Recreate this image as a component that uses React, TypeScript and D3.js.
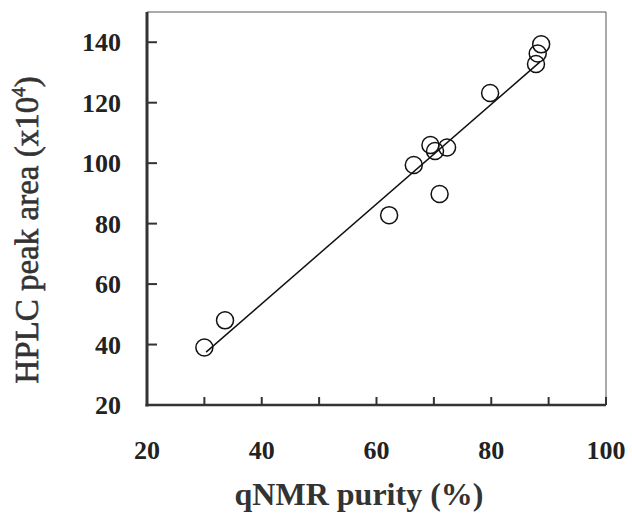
import React, { useRef, useEffect } from 'react';
import * as d3 from 'd3';

// qNMR purity (%) vs HPLC peak area (x10^4)
const purity = [30.0, 33.6, 62.2, 66.5, 69.4, 70.2, 71.0, 72.3, 79.8, 87.8, 88.1, 88.7];
const peakArea = [39.0, 48.0, 82.8, 99.4, 106.0, 104.0, 89.8, 105.2, 123.2, 132.8, 136.3, 139.3];

// fitted line end points
const fitX = [30.3, 88.5];
const fitY = [37.5, 133.5];

const xTicks = [20, 40, 60, 80, 100];
const xMinorTicks = [30, 40, 50, 60, 70, 80, 90];
const yTicks = [20, 40, 60, 80, 100, 120, 140];

const App = () => {
    const svgRef = useRef<SVGSVGElement>(null);

    useEffect(() => {
        d3.select(svgRef.current).selectAll('*').remove();

        const w = 632;
        const h = 515;
        const left = 147, right = 606, top = 12, bottom = 405;

        const svg = d3.select(svgRef.current)
            .attr('width', w)
            .attr('height', h);

        const x = d3.scaleLinear().domain([20, 100]).range([left, right]);
        const y = d3.scaleLinear().domain([20, 150]).range([bottom, top]);

        const ink = '#222';
        const font = '"Liberation Serif", "Times New Roman", serif';

        // frame: thin top/right, thick left/bottom
        svg.append('line').attr('x1', left).attr('x2', right).attr('y1', top).attr('y2', top)
            .attr('stroke', '#555').attr('stroke-width', 1);
        svg.append('line').attr('x1', right).attr('x2', right).attr('y1', top).attr('y2', bottom)
            .attr('stroke', '#555').attr('stroke-width', 1);
        svg.append('line').attr('x1', left).attr('x2', left).attr('y1', top).attr('y2', bottom + 1.5)
            .attr('stroke', '#333').attr('stroke-width', 3);
        svg.append('line').attr('x1', left - 1.5).attr('x2', right).attr('y1', bottom).attr('y2', bottom)
            .attr('stroke', '#333').attr('stroke-width', 2.5);

        // ticks (inward)
        svg.selectAll('.xt')
            .data(xMinorTicks)
            .join('line')
            .attr('x1', d => x(d)).attr('x2', d => x(d))
            .attr('y1', bottom).attr('y2', bottom - 8)
            .attr('stroke', '#333').attr('stroke-width', 2);
        svg.append('line').attr('x1', right).attr('x2', right)
            .attr('y1', bottom).attr('y2', bottom - 8)
            .attr('stroke', '#333').attr('stroke-width', 2);

        svg.selectAll('.yt')
            .data(yTicks.filter(d => d > 20))
            .join('line')
            .attr('x1', left).attr('x2', left + 10)
            .attr('y1', d => y(d)).attr('y2', d => y(d))
            .attr('stroke', '#333').attr('stroke-width', 2);

        // tick labels
        svg.selectAll('.xl')
            .data(xTicks)
            .join('text')
            .text(d => d)
            .attr('x', d => x(d))
            .attr('y', 459)
            .attr('text-anchor', 'middle')
            .attr('font-family', font)
            .attr('font-weight', 'bold')
            .attr('font-size', 26)
            .attr('fill', ink);

        svg.selectAll('.yl')
            .data(yTicks)
            .join('text')
            .text(d => d)
            .attr('x', 121)
            .attr('y', d => y(d) + 9)
            .attr('text-anchor', 'end')
            .attr('font-family', font)
            .attr('font-weight', 'bold')
            .attr('font-size', 26)
            .attr('fill', ink);

        // axis titles
        svg.append('text')
            .text('qNMR purity (%)')
            .attr('x', 359)
            .attr('y', 505)
            .attr('text-anchor', 'middle')
            .attr('font-family', font)
            .attr('font-weight', 'bold')
            .attr('font-size', 32)
            .attr('fill', '#333');

        const yt = svg.append('text')
            .attr('transform', 'translate(38,230) rotate(-90)')
            .attr('text-anchor', 'middle')
            .attr('font-family', font)
            .attr('font-size', 33)
            .attr('stroke', '#333')
            .attr('stroke-width', 0.6)
            .attr('fill', '#333');
        yt.append('tspan').text('HPLC peak area (x10');
        yt.append('tspan').text('4').attr('font-size', 19).attr('dy', -13);
        yt.append('tspan').text(')').attr('dy', 13);

        // fitted line
        svg.append('path')
            .datum(d3.zip(fitX, fitY))
            .attr('d', d3.line().x(d => x(d[0])).y(d => y(d[1])))
            .attr('fill', 'none')
            .attr('stroke', '#111')
            .attr('stroke-width', 1.5);

        // points
        svg.selectAll('.pt')
            .data(d3.zip(purity, peakArea))
            .join('circle')
            .attr('cx', d => x(d[0]))
            .attr('cy', d => y(d[1]))
            .attr('r', 8.5)
            .attr('fill', 'none')
            .attr('stroke', '#111')
            .attr('stroke-width', 1.5);
    }, []);

    return (
        <svg ref={svgRef} style={{ position: 'absolute', left: 0, top: 0 }}></svg>
    );
};

export default App;
